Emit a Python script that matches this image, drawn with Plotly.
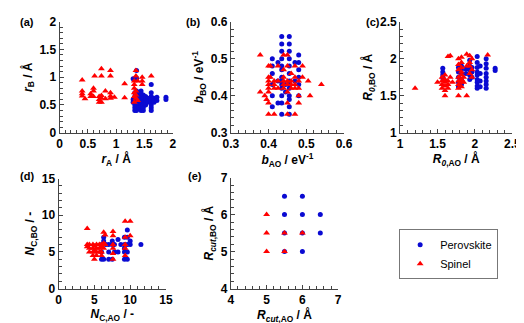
import plotly.graph_objects as go

BLUE = "#0a0ad2"
RED = "#ff0000"

# (a) r_A vs r_B
a_sp_x = [0.40, 0.40, 0.40, 0.40, 0.45, 0.55, 0.55, 0.60, 0.60, 0.60, 0.62, 0.70, 0.70, 0.70,
          0.74, 0.74, 0.74, 0.74, 0.74, 0.81, 0.81, 0.90, 0.90, 0.90, 0.90, 0.90, 0.97,
          1.15, 1.15, 1.32, 1.32, 1.32, 1.32, 1.32, 1.32, 1.35, 1.35, 1.35, 1.35, 1.35,
          1.38, 1.38, 1.46, 1.46, 1.46, 1.62]
a_sp_y = [0.95, 0.75, 0.70, 0.66, 0.61, 0.65, 0.70, 0.80, 0.75, 0.65, 1.02, 0.65, 0.60, 0.55,
          1.15, 1.02, 0.62, 0.55, 0.67, 0.75, 0.61, 1.12, 1.02, 0.72, 0.62, 0.66, 0.64,
          0.88, 0.63, 0.93, 0.87, 0.80, 0.72, 0.65, 0.55, 1.12, 1.02, 0.75, 0.62, 0.68,
          0.93, 0.58, 1.00, 0.93, 0.87, 1.02]
a_pv_x = [1.30, 1.30, 1.30, 1.33, 1.33, 1.33, 1.33, 1.33, 1.33,
          1.36, 1.36, 1.36, 1.36, 1.36, 1.36, 1.36, 1.36,
          1.40, 1.40, 1.40, 1.40, 1.40, 1.40,
          1.44, 1.44, 1.44, 1.44, 1.44, 1.44, 1.44,
          1.48, 1.48, 1.48, 1.48, 1.48, 1.48,
          1.52, 1.52, 1.52, 1.52, 1.56, 1.56, 1.56,
          1.62, 1.62, 1.62, 1.62, 1.62, 1.62, 1.62, 1.62,
          1.67, 1.67, 1.67, 1.72, 1.72, 1.88, 1.88]
a_pv_y = [0.97, 0.60, 0.55, 0.40, 0.45, 0.50, 0.58, 0.65, 0.72,
          1.12, 0.98, 0.75, 0.68, 0.62, 0.55, 0.48, 0.40,
          0.72, 0.65, 0.60, 0.55, 0.50, 0.45,
          0.75, 0.70, 0.62, 0.58, 0.52, 0.47, 0.40,
          0.68, 0.62, 0.55, 0.50, 0.45, 0.40,
          0.65, 0.60, 0.55, 0.50, 0.62, 0.58, 0.55,
          0.87, 0.72, 0.65, 0.60, 0.55, 0.50, 0.45, 0.40,
          0.62, 0.58, 0.55, 0.64, 0.58, 0.64, 0.60]

# (b) b_AO vs b_BO
b_pv_x = [0.41] * 6 + [0.425] * 3 + [0.435] * 13 + [0.455] * 13 + [0.445] * 2 + [0.48] * 6 + [0.47] * 2
b_pv_y = [0.37, 0.40, 0.43, 0.46, 0.48, 0.50,
          0.38, 0.44, 0.49,
          0.35, 0.38, 0.40, 0.42, 0.43, 0.44, 0.45, 0.47, 0.48, 0.50, 0.52, 0.54, 0.56,
          0.35, 0.37, 0.39, 0.40, 0.42, 0.43, 0.44, 0.46, 0.48, 0.50, 0.52, 0.54, 0.56,
          0.41, 0.43,
          0.40, 0.43, 0.45, 0.47, 0.49, 0.51,
          0.49, 0.44]
b_sp_x = [0.378, 0.378, 0.39, 0.395] + [0.40] * 8 + [0.405] * 2 + [0.415] * 4 + [0.425] * 3 \
    + [0.44] * 6 + [0.45] * 7 + [0.46] * 4 + [0.47] * 5 + [0.48] * 4 + [0.49] * 2 \
    + [0.505, 0.51, 0.54]
b_sp_y = [0.51, 0.41, 0.40, 0.39,
          0.35, 0.38, 0.41, 0.42, 0.43, 0.44, 0.45, 0.48,
          0.48, 0.45,
          0.35, 0.43, 0.44, 0.42,
          0.48, 0.42, 0.44,
          0.51, 0.43, 0.42, 0.44, 0.47, 0.45,
          0.51, 0.48, 0.43, 0.41, 0.35, 0.38, 0.44,
          0.43, 0.44, 0.42, 0.46,
          0.48, 0.45, 0.43, 0.42, 0.35,
          0.44, 0.42, 0.40, 0.38,
          0.48, 0.45,
          0.44, 0.40, 0.43]

# (c) R0_AO vs R0_BO
c_sp_x = [1.2, 1.5] + [1.56] * 4 + [1.6] * 6 + [1.64] * 4 + [1.67] * 2 + [1.7] \
    + [1.78] * 8 + [1.82] * 8 + [1.85] * 2 + [1.89] * 3 + [1.93] * 4 + [1.96] * 3 + [2.17]
c_sp_y = [1.6, 1.68,
          1.70, 1.65, 1.60, 1.75,
          1.72, 1.68, 1.63, 1.57, 1.50, 1.78,
          2.03, 1.70, 1.60, 1.65,
          2.04, 1.75,
          1.68,
          2.00, 1.92, 1.85, 1.70, 1.65, 1.60, 1.50, 1.75,
          2.02, 1.95, 1.88, 1.82, 1.78, 1.72, 1.68, 1.62,
          1.75, 1.68,
          2.06, 1.90, 1.50,
          2.04, 1.95, 1.90, 1.80,
          1.85, 2.00, 1.75,
          2.05]
c_pv_x = [1.57] * 4 + [1.78] * 5 + [1.82] * 5 + [1.88] * 2 + [1.93] * 5 + [1.96] * 3 \
    + [2.03] * 9 + [2.07] * 4 + [2.15] * 8 + [2.27] * 2
c_pv_y = [1.87, 1.82, 1.78, 1.74,
          1.88, 1.82, 1.75, 1.68, 1.62,
          1.90, 1.85, 1.80, 1.72, 1.65,
          1.86, 1.80,
          1.98, 1.90, 1.85, 1.78, 1.72,
          1.88, 1.82, 1.75,
          2.03, 1.95, 1.88, 1.82, 1.78, 1.72, 1.68, 1.63, 1.60,
          1.90, 1.80, 1.70, 1.62,
          2.00, 1.93, 1.87, 1.80, 1.75, 1.70, 1.65, 1.60,
          1.87, 1.84]

# (d) NC_AO vs NC_BO
d_sp_x = [4.0] * 3 + [4.3] * 3 + [4.8] * 4 + [5.0] * 3 + [5.3] * 4 + [5.7] * 3 + [6.0] * 4 \
    + [6.3] * 3 + [6.5] * 2 + [7.6] * 6 + [9.3] * 5 + [10.0] * 2
d_sp_y = [8.2, 6.0, 5.7,
          6.0, 5.5, 5.0,
          6.0, 5.5, 5.0, 4.5,
          5.8, 5.2, 4.0,
          6.0, 5.5, 5.0, 4.5,
          6.0, 5.5, 5.0,
          6.0, 5.7, 5.0, 4.5,
          7.7, 6.2, 5.5,
          7.3, 6.0,
          7.8, 7.2, 6.0, 5.5, 4.8, 4.0,
          9.2, 7.0, 6.0, 5.5, 4.5,
          9.2, 7.2]
d_pv_x = [6.0] * 3 + [6.3] * 3 + [6.6] + [7.0] * 3 + [7.5] * 3 + [7.8] * 2 + [8.3] * 2 \
    + [8.7] + [9.2] * 5 + [9.6] * 5 + [10.0] * 2 + [11.5]
d_pv_y = [4.0, 5.0, 6.0,
          7.0, 6.5, 4.0,
          6.0,
          6.0, 5.0, 4.0,
          6.5, 6.0, 4.0,
          6.0, 5.0,
          6.7, 5.0,
          6.0,
          6.0, 5.5, 5.0, 4.0, 7.0,
          8.0, 7.0, 6.0, 5.0, 4.0,
          6.5, 6.0,
          6.0]

# (e) Rcut_AO vs Rcut_BO
e_pv_x = [5.5, 6.0, 5.5, 6.0, 6.5, 5.5, 6.0, 6.5, 5.5, 6.0]
e_pv_y = [6.5, 6.5, 6.0, 6.0, 6.0, 5.5, 5.5, 5.5, 5.0, 5.0]
e_sp_x = [5.0, 5.0, 5.5, 6.0, 5.0, 5.5]
e_sp_y = [6.0, 5.5, 5.5, 5.5, 5.0, 5.0]

panels = [
    (a_pv_x, a_pv_y, a_sp_x, a_sp_y),
    (b_pv_x, b_pv_y, b_sp_x, b_sp_y),
    (c_pv_x, c_pv_y, c_sp_x, c_sp_y),
    (d_pv_x, d_pv_y, d_sp_x, d_sp_y),
    (e_pv_x, e_pv_y, e_sp_x, e_sp_y),
]

W, H = 524, 323
# pixel boxes: (x0, x1, ytop, ybottom)
boxes = [(45, 162, 7, 123), (222, 339, 7, 123), (397, 513, 7, 123),
         (44, 155, 171, 286), (222, 333, 170, 286)]
xranges = [(0, 2, 0.5, 0.1), (0.3, 0.6, 0.1, 0.02), (1, 2.5, 0.5, 0.1), (0, 15, 5, 1), (4, 7, 1, 0.2)]
yranges = [(0, 2, 0.5, 0.1), (0.3, 0.6, 0.1, 0.02), (1, 2.5, 0.5, 0.1), (0, 15, 5, 1), (4, 7, 1, 0.2)]
xtitles = ["<i>r</i><sub>A</sub> / Å", "<i>b</i><sub>AO</sub> / eV<sup>-1</sup>",
           "<i>R</i><sub><i>0</i>,AO</sub> / Å", "<i>N</i><sub>C,AO</sub> / -",
           "<i>R</i><sub><i>cut</i>,AO</sub> / Å"]
ytitles = ["<i>r</i><sub>B</sub> / Å", "<i>b</i><sub>BO</sub> / eV<sup>-1</sup>",
           "<i>R</i><sub><i>0</i>,BO</sub> / Å", "<i>N</i><sub>C,BO</sub> / -",
           "<i>R</i><sub><i>cut</i>,BO</sub> / Å"]
labels = ["(a)", "(b)", "(c)", "(d)", "(e)"]
label_pos = [(2, 7), (174, 7), (360, 7), (2, 168), (176, 168)]

bold12 = dict(family="Liberation Sans, Arial", size=12, color="black", weight="bold")

fig = go.Figure()
layout = {}
for i, (pvx, pvy, spx, spy) in enumerate(panels):
    n = "" if i == 0 else str(i + 1)
    fig.add_trace(go.Scatter(x=pvx, y=pvy, mode="markers", xaxis="x" + n, yaxis="y" + n,
                             marker=dict(symbol="circle", size=5, color=BLUE),
                             name="Perovskite", showlegend=(i == 0)))
    fig.add_trace(go.Scatter(x=spx, y=spy, mode="markers", xaxis="x" + n, yaxis="y" + n,
                             marker=dict(symbol="triangle-up", size=6, color=RED),
                             name="Spinel", showlegend=(i == 0)))
    x0, x1, yt, yb = boxes[i]
    xr, yr = xranges[i], yranges[i]
    common = dict(showline=True, linecolor="#444", linewidth=1, mirror=False,
                  showgrid=False, zeroline=False, ticks="inside", ticklen=4,
                  tickcolor="#444", tickfont=bold12, title_font=bold12, fixedrange=True)
    layout["xaxis" + n] = dict(common, domain=[x0 / W, x1 / W], range=[xr[0], xr[1]],
                               dtick=xr[2], tick0=xr[0], anchor="y" + n,
                               minor=dict(dtick=xr[3], ticks="inside", ticklen=3, tickcolor="#444"),
                               title=dict(text=xtitles[i], standoff=0))
    layout["yaxis" + n] = dict(common, domain=[1 - yb / H, 1 - yt / H], range=[yr[0], yr[1]],
                               dtick=yr[2], tick0=yr[0], anchor="x" + n,
                               minor=dict(dtick=yr[3], ticks="inside", ticklen=3, tickcolor="#444"),
                               title=dict(text=ytitles[i], standoff=4))

annotations = [dict(text=lab, x=px / W, y=1 - py / H, xref="paper", yref="paper",
                    xanchor="left", yanchor="middle", showarrow=False,
                    font=dict(size=11, color="black", weight="bold"))
               for lab, (px, py) in zip(labels, label_pos)]

fig.update_layout(
    **layout,
    width=W, height=H,
    margin=dict(l=0, r=0, t=0, b=0),
    paper_bgcolor="white", plot_bgcolor="white",
    font=bold12,
    annotations=annotations,
    legend=dict(x=396 / W, y=1 - 224 / H, xanchor="left", yanchor="top",
                bordercolor="#777", borderwidth=1, bgcolor="white",
                font=dict(family="Liberation Sans, Arial", size=11, color="black", weight="normal"),
                tracegroupgap=0, itemwidth=30),
)
fig.write_html("out.html")
